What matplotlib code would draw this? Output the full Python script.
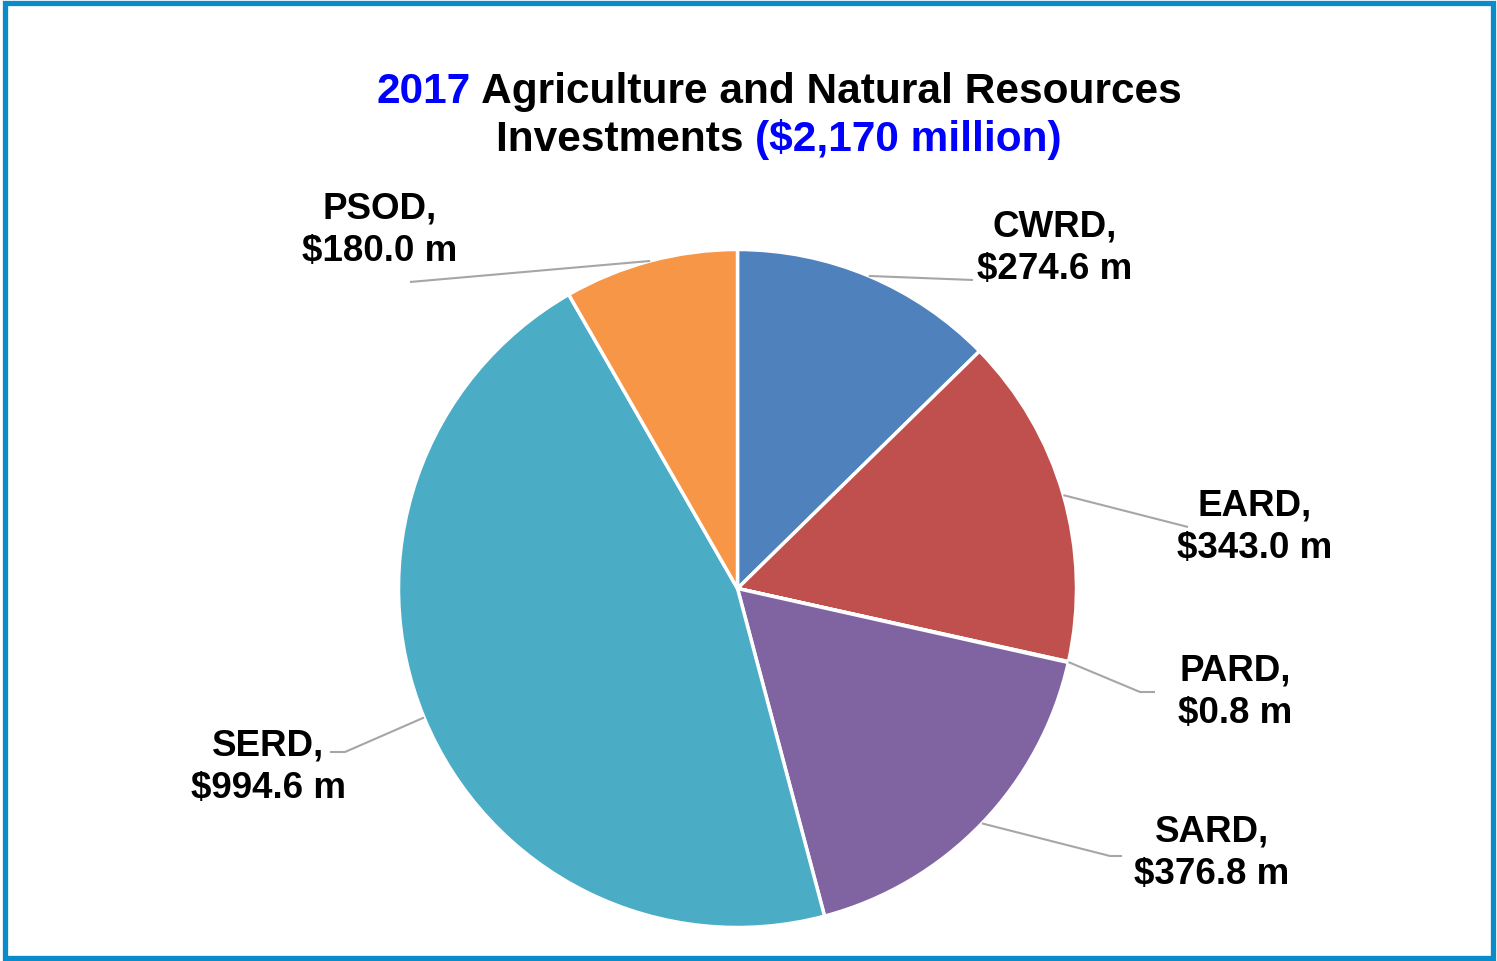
import numpy as np
import matplotlib
matplotlib.use("Agg")
import matplotlib.pyplot as plt
from matplotlib.patches import Rectangle

# ---- data ----
categories = ["CWRD", "EARD", "PARD", "SARD", "SERD", "PSOD"]
values = [274.6, 343.0, 0.8, 376.8, 994.6, 180.0]
label_texts = ["CWRD,\n$274.6 m", "EARD,\n$343.0 m", "PARD,\n$0.8 m",
               "SARD,\n$376.8 m", "SERD,\n$994.6 m", "PSOD,\n$180.0 m"]
colors = ["#4F81BD", "#C0504D", "#9BBB59", "#8064A2", "#4BACC6", "#F79646"]

W, H = 1497, 962
FONT = "Liberation Sans"

fig = plt.figure(figsize=(W / 100, H / 100), dpi=100)
ax = fig.add_axes([0, 0, 1, 1])

cx, cy, R = 737.5, H - 589.5, 339
wedges, _ = ax.pie(values, colors=colors, startangle=90, counterclock=False,
                   center=(cx, cy), radius=R, frame=True,
                   wedgeprops=dict(edgecolor="white", linewidth=2.5))
ax.set_xlim(0, W)
ax.set_ylim(0, H)
ax.set_aspect("equal")
ax.axis("off")

# label layout (pixel positions, y from top): text center, leader points
layout = {
    "CWRD": dict(text=(1055, 248), pts=[(973, 281)]),
    "EARD": dict(text=(1255, 527), pts=[(1188, 528)]),
    "PARD": dict(text=(1235, 692), pts=[(1140, 693), (1155, 693)]),
    "SARD": dict(text=(1212, 853), pts=[(1110, 857), (1122, 857)]),
    "SERD": dict(text=(268, 767), pts=[(345, 753), (330, 753)]),
    "PSOD": dict(text=(380, 230), pts=[(410, 283)]),
}

for w, cat, lab in zip(wedges, categories, label_texts):
    mid = np.deg2rad((w.theta1 + w.theta2) / 2)
    sx = cx + R * np.cos(mid)
    sy = cy + R * np.sin(mid)
    L = layout[cat]
    xs = [sx] + [p[0] for p in L["pts"]]
    ys = [sy] + [H - p[1] for p in L["pts"]]
    ax.plot(xs, ys, color="#A6A6A6", lw=1.5, solid_capstyle="butt", zorder=1)
    tx, ty = L["text"]
    ax.text(tx, H - ty, lab, ha="center", va="center", fontsize=26.5,
            fontweight="bold", family=FONT, color="black",
            linespacing=1.28, multialignment="center")

# ---- title with mixed colors ----
def colored_line(parts, xc, yc, size):
    fig.canvas.draw()
    r = fig.canvas.get_renderer()
    texts = []
    x = 0
    for s, c in parts:
        t = ax.text(x, H - yc, s, ha="left", va="center", fontsize=size,
                    fontweight="bold", family=FONT, color=c)
        bb = t.get_window_extent(r)
        texts.append(t)
        x += bb.width
    acc = xc - x / 2
    for t in texts:
        bb = t.get_window_extent(r)
        t.set_x(acc)
        acc += bb.width

colored_line([("2017", "#0000FF"), (" Agriculture and Natural Resources", "black")],
             779, 92, 30.5)
colored_line([("Investments ", "black"), ("($2,170 million)", "#0000FF")],
             779, 140, 30.5)

# ---- border ----
fig.patches.append(Rectangle((4.5 / W, 3.5 / H), (W - 9) / W, (H - 7) / H,
                             transform=fig.transFigure, fill=False,
                             edgecolor="#0A8CCB", linewidth=3.8))

fig.savefig("out.png", dpi=100, facecolor="white")
